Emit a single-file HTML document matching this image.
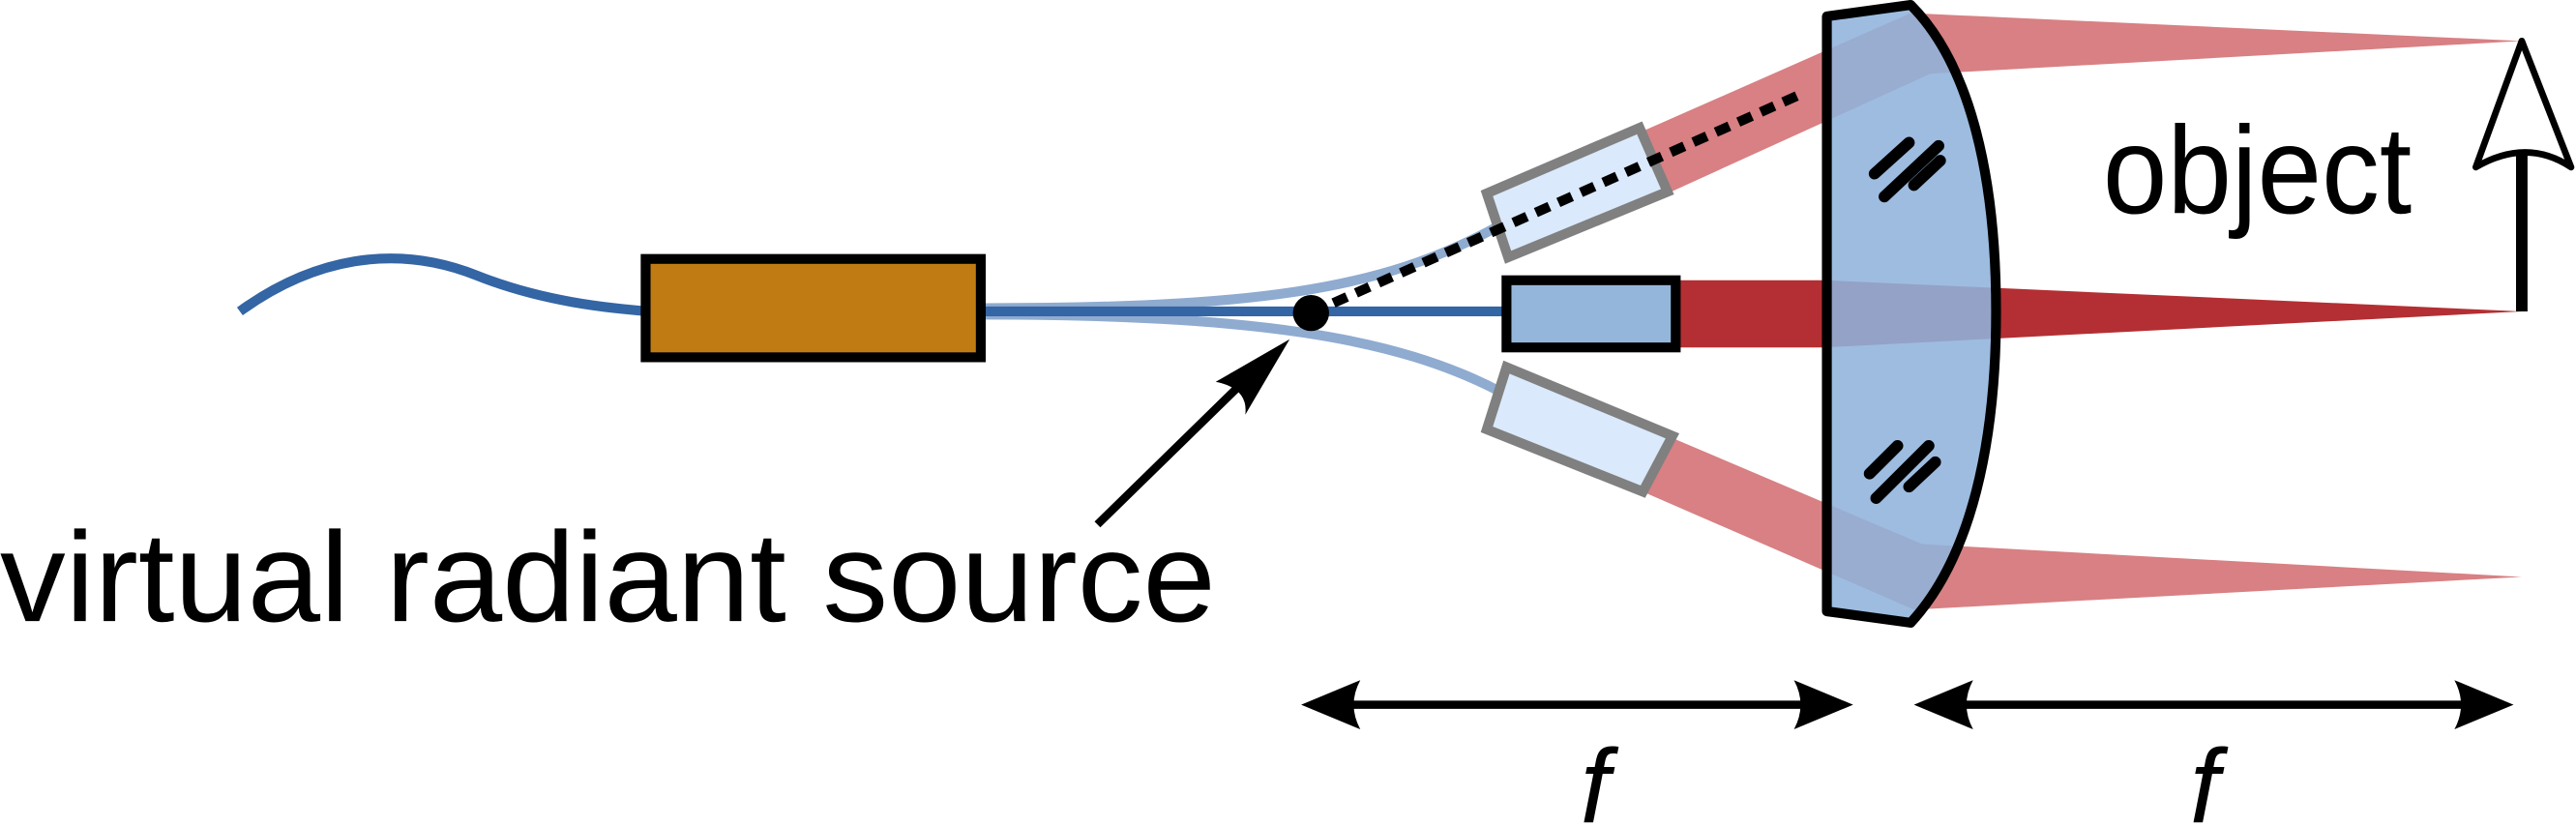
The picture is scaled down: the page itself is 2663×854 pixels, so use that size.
<!DOCTYPE html>
<html><head><meta charset="utf-8"><style>
html,body{margin:0;padding:0;background:#fff;}
svg{display:block;}
text{font-family:"Liberation Sans",sans-serif;}
</style></head><body>
<svg width="2663" height="854" viewBox="0 0 1568 504" preserveAspectRatio="none">
  <path d="M146,190 C190,158 240,148 290,168 C330,184 370,188 395,190" fill="none" stroke="#3465a4" stroke-width="6"/>
  <path d="M597,188 C760,188 840,178 912,138" fill="none" stroke="#8fabd0" stroke-width="6"/>
  <path d="M597,192 C760,192 850,205 915,240" fill="none" stroke="#8fabd0" stroke-width="6"/>
  <line x1="597" y1="190" x2="918" y2="190" stroke="#3465a4" stroke-width="6"/>
  <rect x="393" y="158" width="204" height="60" fill="#c07c12" stroke="#000" stroke-width="6"/>
  <polygon points="1000,80 1163,8 1535,25 1175,45 1015,118" fill="#c33c40" fill-opacity="0.65"/>
  <polygon points="1020,171 1110,171 1535,190 1110,212 1020,212" fill="#b32f33"/>
  <polygon points="1015,266 1170,332 1535,352 1165,372 1000,300" fill="#c33c40" fill-opacity="0.65"/>
  <path d="M1112,10 L1163,3 C1200,40 1215,110 1215,190 C1215,270 1200,340 1163,380 L1112,373 Z" fill="#8fb3dc" fill-opacity="0.88" stroke="#000" stroke-width="6" stroke-linejoin="round"/>
  <g stroke="#000" stroke-width="7" stroke-linecap="round">
    <line x1="1141" y1="106" x2="1162" y2="87"/><line x1="1147" y1="120" x2="1180" y2="89"/><line x1="1165" y1="113" x2="1181" y2="98"/>
  </g>
  <g stroke="#000" stroke-width="7" stroke-linecap="round">
    <line x1="1138" y1="289" x2="1155" y2="272"/><line x1="1142" y1="304" x2="1174" y2="272"/><line x1="1162" y1="297" x2="1178" y2="282"/>
  </g>
  <polygon points="905,118 998,78 1015,117 918,157" fill="#dae9fb" stroke="#808080" stroke-width="6"/>
  <polygon points="917,224 1018,266 1000,300 905,262" fill="#dae9fb" stroke="#808080" stroke-width="6"/>
  <rect x="917" y="171" width="103" height="41" fill="#95b6db" stroke="#000" stroke-width="6"/>
  <line x1="798" y1="191" x2="1095" y2="58" stroke="#000" stroke-width="6" stroke-dasharray="9 6"/>
  <circle cx="798" cy="191" r="11" fill="#000"/>
  <line x1="1535" y1="190" x2="1535" y2="92" stroke="#000" stroke-width="7"/>
  <path d="M1535,25 L1565,102 Q1538,84 1507,102 Z" fill="#fff" stroke="#000" stroke-width="4" stroke-linejoin="round"/>
  <text x="1280" y="130" font-size="76" textLength="188" lengthAdjust="spacingAndGlyphs">object</text>
  <line x1="668" y1="320" x2="765" y2="225" stroke="#000" stroke-width="5"/>
  <path d="M785,207 L758,253 Q760,237 740,233 Z" fill="#000"/>
  <text x="0" y="379" font-size="78" textLength="740" lengthAdjust="spacingAndGlyphs">virtual radiant source</text>
  <g>
    <line x1="815" y1="430" x2="1105" y2="430" stroke="#000" stroke-width="5"/>
    <path d="M792,430 L828,415 Q820,430 828,445 Z" fill="#000"/>
    <path d="M1128,430 L1092,415 Q1100,430 1092,445 Z" fill="#000"/>
  </g>
  <g>
    <line x1="1185" y1="430" x2="1508" y2="430" stroke="#000" stroke-width="5"/>
    <path d="M1165,430 L1201,415 Q1193,430 1201,445 Z" fill="#000"/>
    <path d="M1530,430 L1494,415 Q1502,430 1494,445 Z" fill="#000"/>
  </g>
  <text x="962" y="502" font-size="64" font-style="italic">f</text>
  <text x="1333" y="502" font-size="64" font-style="italic">f</text>
</svg>
</body></html>
